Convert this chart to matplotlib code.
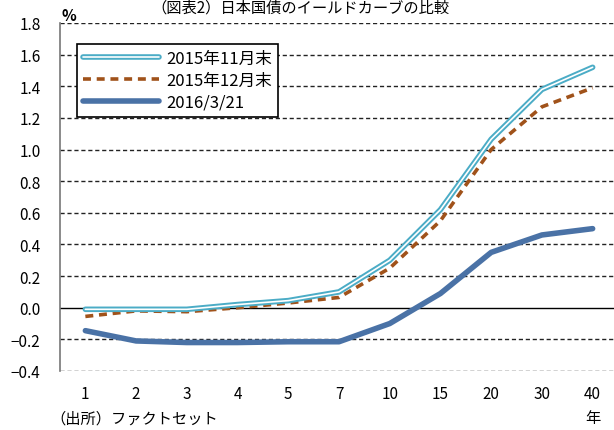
import numpy as np
import matplotlib
matplotlib.use("Agg")
import matplotlib.pyplot as plt
import matplotlib.patheffects as pe

plt.rcParams["font.family"] = ["Noto Sans CJK JP", "DejaVu Sans"]

# ── Data: JGB yields by maturity (%) ─────────────────────────────────────
maturities = ["1", "2", "3", "4", "5", "7", "10", "15", "20", "30", "40"]
yield_nov15 = [-0.01, -0.01, -0.01, 0.02, 0.045, 0.10, 0.30, 0.62, 1.065, 1.38, 1.52]
yield_dec15 = [-0.055, -0.02, -0.025, 0.00, 0.03, 0.065, 0.25, 0.55, 1.00, 1.27, 1.39]
yield_mar16 = [-0.145, -0.21, -0.22, -0.22, -0.215, -0.215, -0.10, 0.09, 0.35, 0.46, 0.50]
series_labels = ["2015年11月末", "2015年12月末", "2016/3/21"]

TEAL, BROWN, BLUE = "#4BACC6", "#A0521A", "#4A72A6"

fig = plt.figure(figsize=(6.14, 4.31), dpi=100)
ax = fig.add_axes([60 / 614, 59 / 431, 558 / 614, 348 / 431])

x = np.arange(len(maturities))

# double line for Nov-2015: teal outline with white core
ax.plot(x, yield_nov15, color="white", lw=1.2, solid_capstyle="round",
        path_effects=[pe.Stroke(linewidth=4.0, foreground=TEAL), pe.Normal()],
        label=series_labels[0], zorder=4)
ax.plot(x, yield_dec15, color=BROWN, lw=2.6, ls=(0, (2.2, 1.6)),
        label=series_labels[1], zorder=3)
ax.plot(x, yield_mar16, color=BLUE, lw=4.0, solid_capstyle="round",
        label=series_labels[2], zorder=5)

# ── Axes styling ─────────────────────────────────────────────────────────
ax.set_xlim(-0.5, len(maturities) - 0.5)
ax.set_ylim(-0.4, 1.8)
yt = np.round(np.arange(-0.4, 1.81, 0.2), 1)
ax.set_yticks(yt)
ax.set_yticklabels([f"{v:.1f}".replace("-", "−") if v != 0 else "0.0" for v in yt])
ax.set_xticks(x)
ax.set_xticklabels(maturities)
ax.tick_params(length=0, labelsize=11)
ax.tick_params(axis="y", pad=14)
ax.tick_params(axis="x", pad=10)

for v in yt:
    if v == 0:
        ax.axhline(0, color="black", lw=1.0, zorder=2)
    else:
        ax.axhline(v, color="#222222", lw=1.0, ls=(0, (3, 2)), zorder=1)

for s in ["top", "right", "bottom"]:
    ax.spines[s].set_visible(False)
ax.spines["left"].set_color("#777777")
ax.spines["left"].set_linestyle((0, (1.5, 1)))
ax.spines["left"].set_linewidth(1.2)

leg = ax.legend(loc="upper left", bbox_to_anchor=(0.03, 0.94), borderaxespad=0,
                fontsize=12, frameon=True, fancybox=False, handlelength=4.6,
                handletextpad=0.4, borderpad=0.35, labelspacing=0.3)
leg.get_frame().set_edgecolor("black")
leg.get_frame().set_linewidth(1.2)
leg.get_frame().set_alpha(1)

# ── Annotations ──────────────────────────────────────────────────────────
fig.text(300 / 614, 1.0, "（図表2）日本国債のイールドカーブの比較",
         ha="center", va="top", fontsize=11)
fig.text(62 / 614, 1 - 16 / 431, "%", ha="left", va="center", fontsize=11,
         fontweight="bold")
fig.text(593 / 614, 1 - 419 / 431, "年", ha="center", va="center", fontsize=11)
fig.text(50 / 614, 1 - 419 / 431, "（出所）ファクトセット", ha="left",
         va="center", fontsize=11)

fig.savefig("out.png", dpi=100)
plt.close(fig)
